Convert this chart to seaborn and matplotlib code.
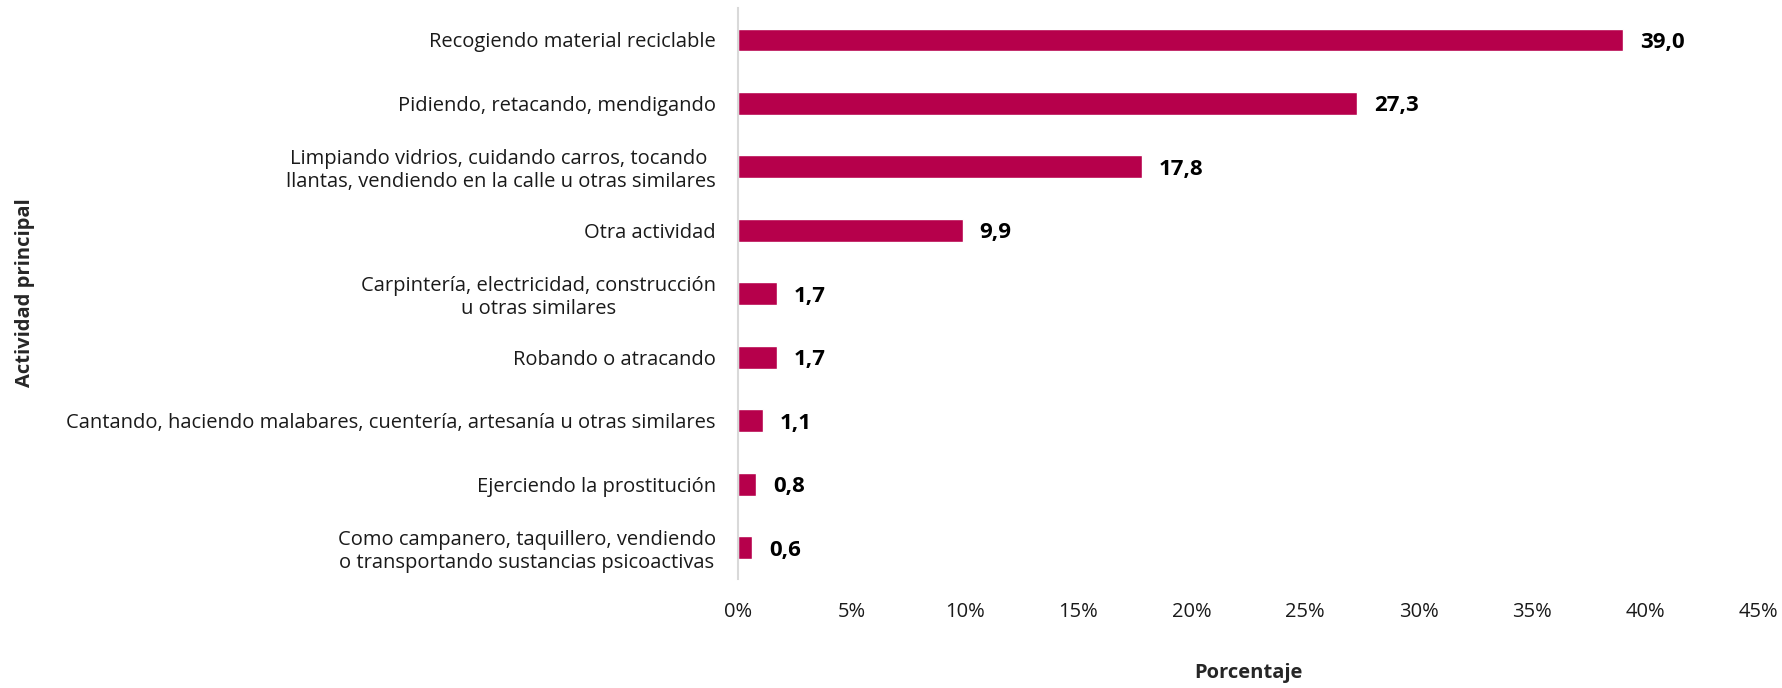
import matplotlib
matplotlib.use("Agg")
import matplotlib.pyplot as plt
import seaborn as sns
import pandas as pd
from matplotlib.ticker import FuncFormatter

actividades = [
    "Recogiendo material reciclable",
    "Pidiendo, retacando, mendigando",
    "Limpiando vidrios, cuidando carros, tocando \nllantas, vendiendo en la calle u otras similares",
    "Otra actividad",
    "Carpintería, electricidad, construcción\nu otras similares",
    "Robando o atracando",
    "Cantando, haciendo malabares, cuentería, artesanía u otras similares",
    "Ejerciendo la prostitución",
    "Como campanero, taquillero, vendiendo\no transportando sustancias psicoactivas",
]
porcentajes = [39.0, 27.3, 17.8, 9.9, 1.7, 1.7, 1.1, 0.8, 0.6]
x_ticks = [0, 5, 10, 15, 20, 25, 30, 35, 40, 45]

df = pd.DataFrame({"actividad": actividades, "porcentaje": porcentajes})

sns.set_style("white")
plt.rcParams["font.family"] = ["Open Sans", "DejaVu Sans"]

fig = plt.figure(figsize=(17.83, 6.88), dpi=100)
ax = fig.add_axes([0.414, 0.158, 0.5725, 0.830])

sns.barplot(data=df, x="porcentaje", y="actividad", color="#B6004B",
            width=0.36, saturation=1, ax=ax)

for p, v in zip(ax.patches, porcentajes):
    ax.text(p.get_width() + 0.75, p.get_y() + p.get_height() / 2 + 0.04,
            f"{v:.1f}".replace(".", ","), va="center", ha="left",
            fontsize=16, fontweight="bold", color="black")

ax.set_xlim(0, 45)
ax.set_ylim(8.5, -0.5)
ax.set_xticks(x_ticks)
ax.xaxis.set_major_formatter(FuncFormatter(lambda v, _: f"{v:.0f}%"))
ax.tick_params(axis="both", length=0, labelsize=14.5, colors="#1a1a1a")
ax.tick_params(axis="x", pad=16)
ax.tick_params(axis="y", pad=16)
for lbl in ax.get_yticklabels():
    lbl.set_multialignment("center")

for s in ["top", "right", "bottom"]:
    ax.spines[s].set_visible(False)
ax.spines["left"].set_color("#D9D9D9")
ax.spines["left"].set_linewidth(1.5)

ax.set_xlabel("Porcentaje", fontsize=14.5, fontweight="bold", labelpad=30)
ax.set_ylabel("")
fig.text(25 / 1783, 0.575, "Actividad principal", rotation=90,
         ha="center", va="center", fontsize=14.5, fontweight="bold")

fig.savefig("out.png", dpi=100)
